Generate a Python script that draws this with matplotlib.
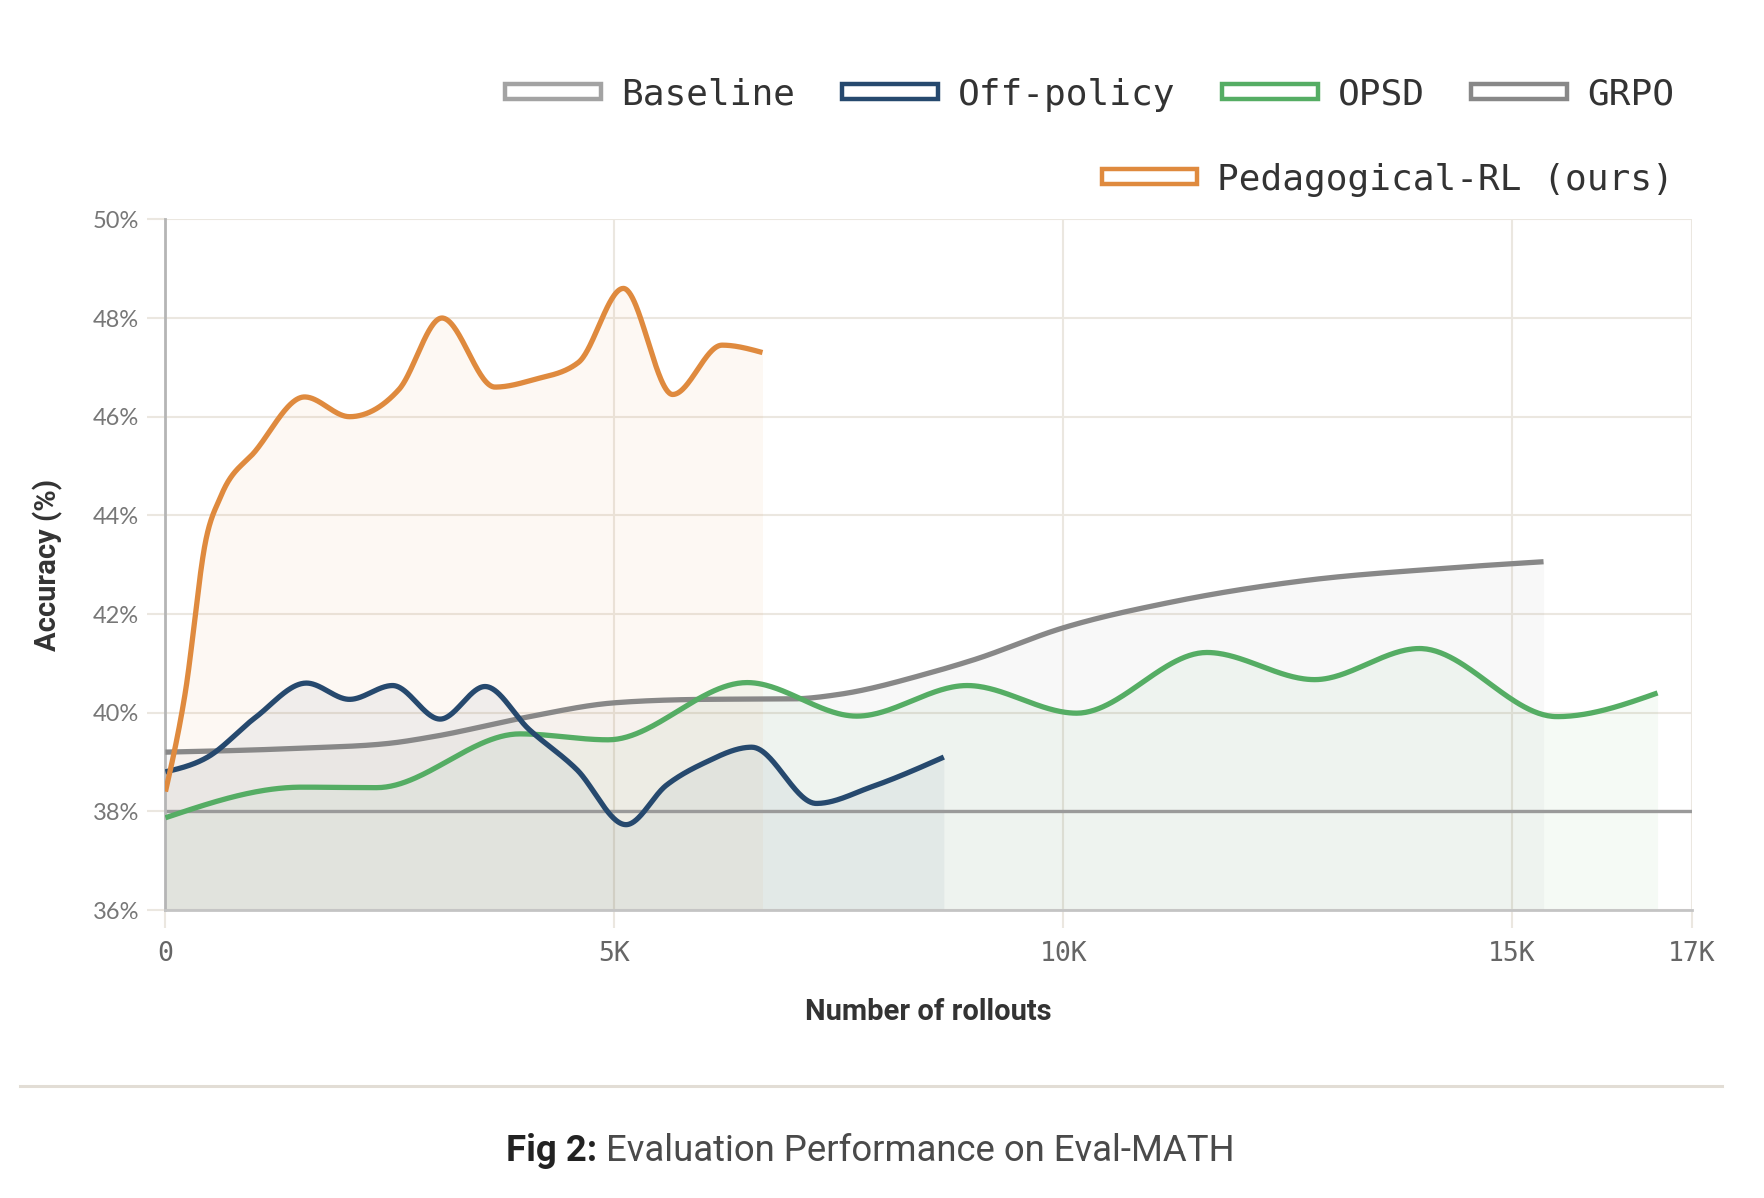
import numpy as np
import matplotlib
matplotlib.use("Agg")
import matplotlib.pyplot as plt
from matplotlib.patches import Patch
from matplotlib.lines import Line2D

# values (x in thousands of rollouts, y in %)
ped_x = [0, 0.22, 0.45, 0.62, 1.0, 1.55, 2.05, 2.6, 3.08, 3.67, 4.1, 4.6, 5.1, 5.65, 6.2, 6.65]
ped_y = [38.4, 40.4, 43.5, 44.4, 45.3, 46.4, 46.0, 46.55, 48.0, 46.6, 46.75, 47.1, 48.6, 46.45, 47.45, 47.3]

off_x = [0, 0.47, 1.0, 1.57, 2.05, 2.53, 3.06, 3.56, 4.05, 4.58, 5.13, 5.58, 6.0, 6.53, 7.25, 7.87, 8.67]
off_y = [38.8, 39.1, 39.9, 40.6, 40.27, 40.55, 39.87, 40.53, 39.66, 38.85, 37.73, 38.53, 38.98, 39.3, 38.16, 38.5, 39.1]

opsd_x = [0, 1.52, 2.35, 3.95, 4.93, 6.48, 7.7, 8.93, 10.15, 11.6, 12.8, 13.97, 15.5, 16.62]
opsd_y = [37.87, 38.49, 38.48, 39.57, 39.45, 40.61, 39.93, 40.55, 39.99, 41.22, 40.67, 41.3, 39.92, 40.4]

grpo_x = [0, 1.5, 2.5, 3.0, 4.0, 5.0, 6.0, 7.0, 7.5, 8.5, 9.0, 10.0, 11.2, 12.7, 14.2, 15.35]
grpo_y = [39.2, 39.28, 39.38, 39.52, 39.9, 40.2, 40.27, 40.28, 40.37, 40.8, 41.07, 41.72, 42.24, 42.68, 42.92, 43.06]

base_x = [0, 17]
base_y = [38, 38]

x_ticks = [0, 5, 10, 15, 17]
x_tick_labels = ["0", "5K", "10K", "15K", "17K"]
y_ticks = [36, 38, 40, 42, 44, 46, 48, 50]
y_tick_labels = ["36%", "38%", "40%", "42%", "44%", "46%", "48%", "50%"]

names = ["Baseline", "Off-policy", "OPSD", "GRPO", "Pedagogical-RL (ours)"]
colors = {"Baseline": "#a3a3a3", "Off-policy": "#26496e", "OPSD": "#55ad64",
          "GRPO": "#888888", "Pedagogical-RL (ours)": "#df8a3e"}

GRID = "#ebe7e0"
MONO = "DejaVu Sans Mono"


def monotone(xs, ys, n=60):
    """smooth curve through the points, same idea as d3 curveMonotoneX"""
    x = np.asarray(xs, float)
    y = np.asarray(ys, float)
    if len(x) < 3:
        return x, y
    h = np.diff(x)
    s = np.diff(y) / h
    m = np.zeros_like(x)
    for i in range(1, len(x) - 1):
        p = (s[i - 1] * h[i] + s[i] * h[i - 1]) / (h[i - 1] + h[i])
        m[i] = (np.sign(s[i - 1]) + np.sign(s[i])) * min(abs(s[i - 1]), abs(s[i]), 0.5 * abs(p))
    m[0] = (3 * s[0] - m[1]) / 2
    m[-1] = (3 * s[-1] - m[-2]) / 2
    xo, yo = [], []
    t = np.linspace(0, 1, n)
    for i in range(len(x) - 1):
        h00 = 2 * t**3 - 3 * t**2 + 1
        h10 = t**3 - 2 * t**2 + t
        h01 = -2 * t**3 + 3 * t**2
        h11 = t**3 - t**2
        xo.append(x[i] + t * h[i])
        yo.append(h00 * y[i] + h10 * h[i] * m[i] + h01 * y[i + 1] + h11 * h[i] * m[i + 1])
    return np.concatenate(xo), np.concatenate(yo)


fig = plt.figure(figsize=(17.64, 11.98), dpi=100)
ax = fig.add_axes([0.0938, 0.2404, 0.8652, 0.5765])

series = {
    "GRPO": (grpo_x, grpo_y),
    "OPSD": (opsd_x, opsd_y),
    "Off-policy": (off_x, off_y),
    "Pedagogical-RL (ours)": (ped_x, ped_y),
}

# area fills under every curve
for name, (xs, ys) in series.items():
    xd, yd = monotone(xs, ys)
    ax.fill_between(xd, yd, 36, color=colors[name], alpha=0.06, lw=0, zorder=1)

ax.plot(base_x, base_y, color="#9a9a9a", lw=2.4, zorder=2, solid_capstyle="butt")
for name, (xs, ys) in series.items():
    xd, yd = monotone(xs, ys)
    ax.plot(xd, yd, color=colors[name], lw=3.8, zorder=3, solid_capstyle="butt")

ax.set_xlim(0, 17)
ax.set_ylim(36, 50)
ax.set_xticks(x_ticks)
ax.set_xticklabels(x_tick_labels, family=MONO, fontsize=19, color="#666666")
ax.set_yticks(y_ticks)
ax.set_yticklabels(y_tick_labels, family="Lato", fontsize=17, color="#777777")
ax.tick_params(axis="both", length=13, width=1.5, color=GRID)
ax.tick_params(axis="x", pad=9)
ax.tick_params(axis="y", pad=6)
ax.grid(True, color=GRID, lw=1.5, zorder=0)
ax.set_axisbelow(True)
for side in ["top", "right"]:
    ax.spines[side].set_visible(False)
ax.spines["left"].set_color("#b5b5b5")
ax.spines["left"].set_linewidth(2)
ax.spines["bottom"].set_color("#c4c4c4")
ax.spines["bottom"].set_linewidth(2)

ax.set_xlabel("Number of rollouts", family="Roboto", fontweight="bold", fontsize=21, color="#333333")
ax.xaxis.set_label_coords(0.5, -0.148)
ax.xaxis.label.set_va("center")
ax.set_ylabel("Accuracy (%)", family="Roboto", fontweight="bold", fontsize=21, color="#333333")
ax.yaxis.set_label_coords(-0.077, 0.5)
ax.yaxis.label.set_va("center")

# legend: 4 on the first row, ours alone on the second, both right aligned
def handles(keys):
    return [Patch(facecolor="white", edgecolor=colors[k], linewidth=3.2, label=k) for k in keys]

leg_kw = dict(frameon=False, borderpad=0, borderaxespad=0, handlelength=2.65, handleheight=0.27,
              handletextpad=0.55, columnspacing=1.3,
              prop={"family": MONO, "size": 26})
leg1 = fig.legend(handles=handles(names[:4]), ncol=4, loc="center right",
                  bbox_to_anchor=(0.949, 0.921), labelcolor="#333333", **leg_kw)
leg2 = fig.legend(handles=handles(names[4:]), ncol=1, loc="center right",
                  bbox_to_anchor=(0.949, 0.850), labelcolor="#333333", **leg_kw)

# separator and caption
fig.add_artist(Line2D([0.0113, 0.976], [0.0938, 0.0938], color="#e2ddd5", lw=2.2))
renderer = fig.canvas.get_renderer()
t1 = fig.text(0.287, 0.031, "Fig 2:", family="Roboto", fontweight="bold", fontsize=26.3,
              color="#222222", va="baseline")
bb = t1.get_window_extent(renderer)
fig.text(bb.x1 / fig.bbox.width + 0.005, 0.031, "Evaluation Performance on Eval-MATH",
         family="Roboto", fontsize=26.3, color="#4a4a4a", va="baseline")

fig.savefig("out.png", dpi=100)
